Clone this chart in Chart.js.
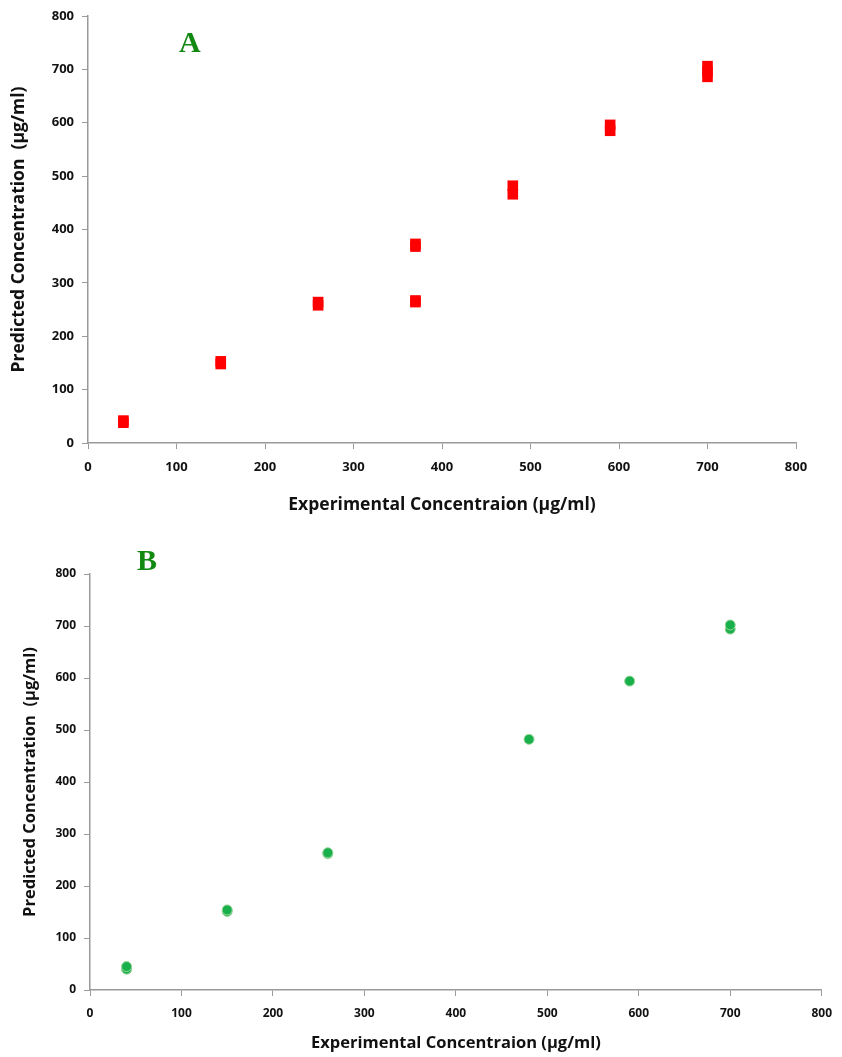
<!DOCTYPE html>
<html>
<head>
<meta charset="utf-8">
<script src="https://cdn.jsdelivr.net/npm/chart.js@4"></script>
<style>
  body { margin: 0; background: #fff; width: 842px; height: 1057px; position: relative; overflow: hidden; }
  .caja { position: absolute; left: 0; width: 842px; }
  .letra { position: absolute; font-family: "Liberation Serif", serif; font-weight: bold; font-size: 30px; color: #128a12; }
</style>
</head>
<body>
<div class="caja" style="top:0;height:520px"><canvas id="graficoA"></canvas></div>
<div class="caja" style="top:520px;height:537px"><canvas id="graficoB"></canvas></div>
<div class="letra" style="left:179px;top:25px">A</div>
<div class="letra" style="left:137px;top:543px">B</div>
<script>
// valores
var xA = [40, 40, 150, 150, 260, 260, 370, 370, 370, 370, 480, 480, 590, 590, 700, 700, 700];
var yA = [38, 42, 148, 153, 258, 264, 368, 373, 264, 267, 466, 482, 585, 596, 686, 696, 706];

var xB = [40, 40, 150, 150, 260, 260, 480, 590, 700, 700];
var yB = [40, 45, 151, 154, 262, 264, 482, 594, 694, 702];

var marcasEje = [0, 100, 200, 300, 400, 500, 600, 700, 800];
var tituloX = "Experimental Concentraion (µg/ml)";
var tituloY = "Predicted Concentration  (µg/ml)";

function puntos(xs, ys) {
  var lista = [];
  for (var i = 0; i < xs.length; i++) {
    lista.push({ x: xs[i], y: ys[i] });
  }
  return lista;
}

function escalas(anchoY, altoX, tamTick, tamTitulo, margenTituloY, margenTituloX) {
  var fuenteTick = { family: "Open Sans", size: tamTick, weight: "bold" };
  var fuenteTitulo = { family: "Open Sans", size: tamTitulo, weight: "bold" };
  return {
    x: {
      type: "linear", min: 0, max: 800,
      afterBuildTicks: function (s) { s.ticks = marcasEje.map(function (v) { return { value: v }; }); },
      grid: { drawOnChartArea: false, color: "#9a9a9a", tickLength: 6 },
      border: { color: "#9a9a9a", width: 1.5 },
      ticks: { color: "#111", font: fuenteTick, padding: 10, maxRotation: 0 },
      title: { display: true, text: tituloX, color: "#111", font: fuenteTitulo, padding: { top: margenTituloX } },
      afterFit: function (s) { s.height = altoX; }
    },
    y: {
      type: "linear", min: 0, max: 800,
      afterBuildTicks: function (s) { s.ticks = marcasEje.map(function (v) { return { value: v }; }); },
      grid: { drawOnChartArea: false, color: "#9a9a9a", tickLength: 6 },
      border: { color: "#9a9a9a", width: 1.5 },
      ticks: { color: "#111", font: fuenteTick, padding: 8 },
      title: { display: true, text: tituloY, color: "#111", font: fuenteTitulo, padding: { top: margenTituloY, bottom: 4 } },
      afterFit: function (s) { s.width = anchoY; }
    }
  };
}

var ctxA = document.getElementById("graficoA").getContext("2d");
new Chart(ctxA, {
  type: "scatter",
  data: {
    datasets: [{
      data: puntos(xA, yA),
      pointStyle: "rect",
      pointRadius: 7.5,
      backgroundColor: "#ff0000",
      borderColor: "#ff0000",
      borderWidth: 0
    }]
  },
  options: {
    responsive: true, maintainAspectRatio: false, animation: false,
    layout: { padding: { top: 16, right: 46, bottom: 0, left: 0 } },
    plugins: { legend: { display: false }, tooltip: { enabled: false } },
    scales: escalas(88, 77, 13, 17.5, 9, 8)
  }
});

var ctxB = document.getElementById("graficoB").getContext("2d");
new Chart(ctxB, {
  type: "scatter",
  data: {
    datasets: [{
      data: puntos(xB, yB),
      pointStyle: "circle",
      pointRadius: 5,
      backgroundColor: "#17b04a",
      borderColor: "#9bd49b",
      borderWidth: 1
    }]
  },
  options: {
    responsive: true, maintainAspectRatio: false, animation: false,
    layout: { padding: { top: 54, right: 16, bottom: 0, left: 0 } },
    plugins: { legend: { display: false }, tooltip: { enabled: false } },
    scales: escalas(90, 67, 12, 16.5, 20, 8)
  }
});
</script>
</body>
</html>
